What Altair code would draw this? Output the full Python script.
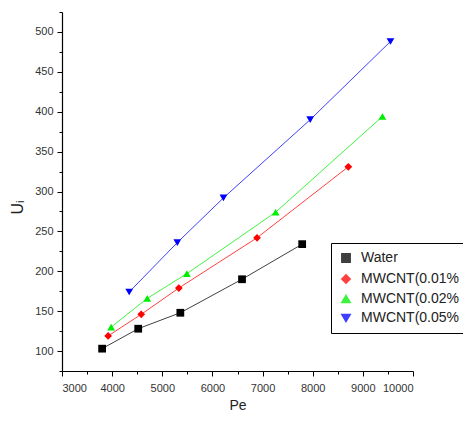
import altair as alt
import pandas as pd

series = ["Water", "MWCNT(0.01%", "MWCNT(0.02%", "MWCNT(0.05%"]
water_x = [3800, 4520, 5360, 6590, 7790]
water_y = [103, 128, 148, 190, 234]
c01_x = [3920, 4580, 5330, 6890, 8710]
c01_y = [119, 146, 179, 242, 331]
c02_x = [3980, 4700, 5490, 7260, 9390]
c02_y = [130, 166, 197, 274, 394]
c05_x = [4340, 5300, 6220, 7950, 9550]
c05_y = [174, 236, 292, 390, 488]

colors = ["#000000", "#ff0000", "#00ee00", "#0000ff"]
shapes = ["square", "diamond", "triangle-up", "triangle-down"]

rows = []
for name, xs, ys in zip(series, [water_x, c01_x, c02_x, c05_x], [water_y, c01_y, c02_y, c05_y]):
    for xv, yv in zip(xs, ys):
        rows.append({"series": name, "Pe": xv, "U": yv})
df = pd.DataFrame(rows)

minor_x = [3500, 4500, 5500, 6500, 7500, 8500, 9500]
minor_y = [75, 125, 175, 225, 275, 325, 375, 425, 475, 525]

FONT = "Liberation Sans"

xscale = alt.Scale(domain=[3000, 10000], nice=False, zero=False)
yscale = alt.Scale(domain=[75, 525], nice=False, zero=False)
cscale = alt.Scale(domain=series, range=colors)
sscale = alt.Scale(domain=series, range=shapes)

legend = alt.Legend(title=None, orient="none", legendX=269, legendY=231,
                    strokeColor="#000000", padding=8, labelFontSize=14,
                    labelFont=FONT, symbolSize=70, rowPadding=5, labelOffset=8,
                    labelColor="#222222")

base = alt.Chart(df)

lines = base.mark_line(strokeWidth=1, opacity=0.75).encode(
    x=alt.X("Pe:Q", scale=xscale,
            axis=alt.Axis(orient="bottom", values=list(range(3000, 10001, 1000)), title="Pe",
                          format="d", grid=False, tickSize=5, labelPadding=6, titlePadding=5,
                          titleFontSize=14, titleFontWeight="normal")),
    y=alt.Y("U:Q", scale=yscale,
            axis=alt.Axis(orient="left", values=list(range(100, 501, 50)), title="Uᵢ",
                          grid=False, tickSize=5, labelPadding=4, titleFontSize=16,
                          titleFontWeight="normal", titleX=-37, titleY=195)),
    color=alt.Color("series:N", scale=cscale, legend=legend),
    shape=alt.Shape("series:N", scale=sscale, legend=legend),
    detail="series:N",
)

points = base.mark_point(filled=True, size=60, opacity=1).encode(
    x=alt.X("Pe:Q", scale=xscale, axis=None),
    y=alt.Y("U:Q", scale=yscale, axis=None),
    color=alt.Color("series:N", scale=cscale, legend=legend),
    shape=alt.Shape("series:N", scale=sscale, legend=legend),
)

minor_df = pd.DataFrame({"mx": minor_x})
minor_xa = alt.Chart(minor_df).mark_point(opacity=0).encode(
    x=alt.X("mx:Q", scale=xscale,
            axis=alt.Axis(orient="bottom", values=minor_x, labels=False, domain=False,
                          ticks=True, tickSize=3, grid=False, title=None)),
)
minor_ydf = pd.DataFrame({"my": minor_y})
minor_ya = alt.Chart(minor_ydf).mark_point(opacity=0).encode(
    y=alt.Y("my:Q", scale=yscale,
            axis=alt.Axis(orient="left", values=minor_y, labels=False, domain=False,
                          ticks=True, tickSize=3, grid=False, title=None)),
)

chart = alt.layer(lines, points, minor_xa, minor_ya).resolve_axis(
    x="independent", y="independent"
).properties(
    width=351, height=359,
    autosize=alt.AutoSizeParams(type="none"),
    padding={"left": 54, "top": 4, "right": 50, "bottom": 41},
).configure_view(stroke=None).configure_axis(
    labelFont=FONT, titleFont=FONT, labelFontSize=11, labelColor="#333333",
    titleColor="#222222", domainColor="#000000", tickColor="#000000",
    domainWidth=1.2, tickWidth=1,
).configure_legend(labelFont=FONT)

chart.save("out.html", embed_options={"renderer": "svg", "actions": False})
